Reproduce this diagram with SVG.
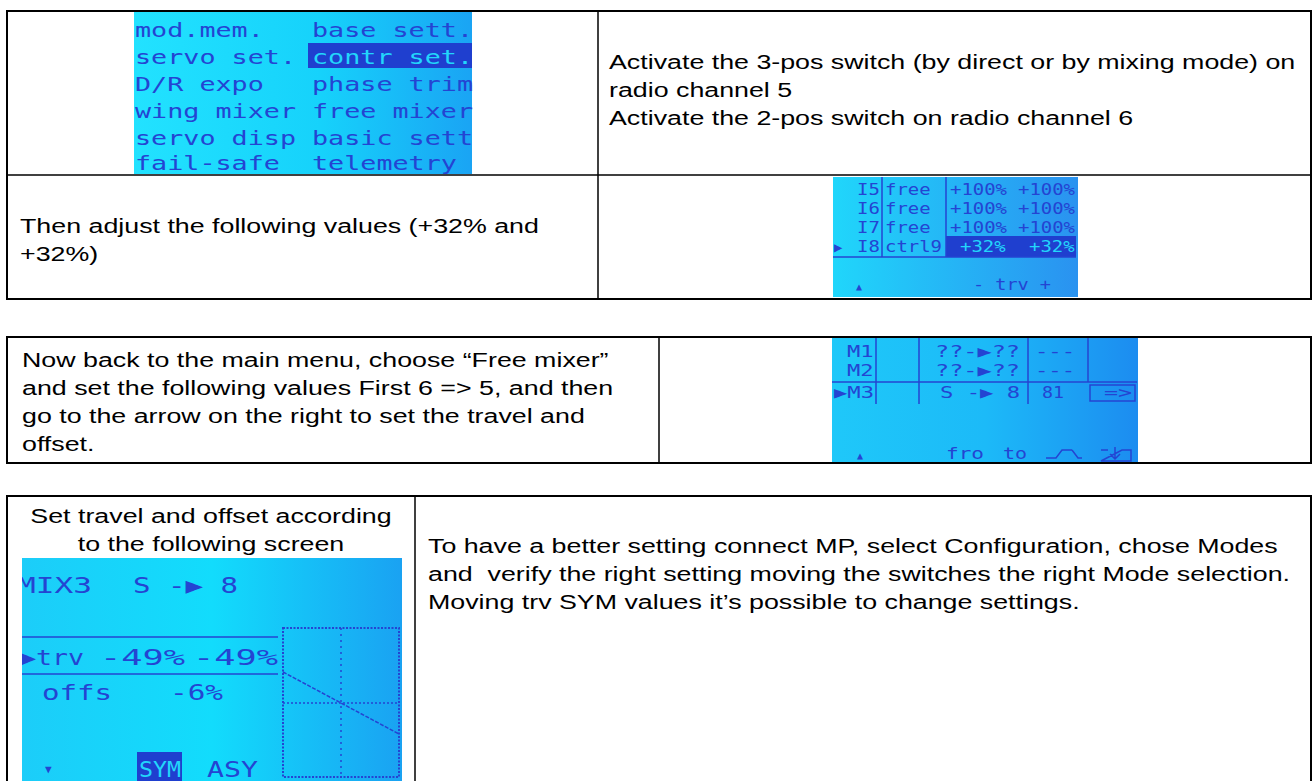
<svg xmlns="http://www.w3.org/2000/svg" width="1312" height="781" viewBox="0 0 1312 781">
<style>
.b{fill:none;stroke:#000;stroke-width:2}
.d{stroke:#000;stroke-width:1.5}
.t{font-family:"Liberation Sans",Arial,sans-serif;font-size:21px;fill:#000}
.l{font-family:"DejaVu Sans Mono","Liberation Mono",monospace;fill:#2444d2}
.hl{fill:#1f3fcf}
.c{fill:#22d6fb}
.ln{stroke:#2444d2;stroke-width:1.5;fill:none}
.dot{stroke:#2444d2;stroke-width:2;fill:none;stroke-dasharray:2 1.5}
</style>
<defs>
<linearGradient id="g1" x1="0" x2="1" y1="0" y2="0"><stop offset="0" stop-color="#22e2ff"/><stop offset="0.55" stop-color="#16d2fb"/><stop offset="1" stop-color="#1aa4f4"/></linearGradient>
<linearGradient id="g2" x1="0" x2="1" y1="0" y2="0"><stop offset="0" stop-color="#20d6fb"/><stop offset="1" stop-color="#2a92f0"/></linearGradient>
<linearGradient id="g3" x1="0" x2="1" y1="0" y2="0"><stop offset="0" stop-color="#1fc8f9"/><stop offset="0.5" stop-color="#1cbaf8"/><stop offset="1" stop-color="#1c8cf0"/></linearGradient>
<linearGradient id="g4" x1="0" x2="1" y1="0" y2="0"><stop offset="0" stop-color="#1ccdf9"/><stop offset="0.5" stop-color="#12dcfc"/><stop offset="1" stop-color="#1aa2f2"/></linearGradient>
<clipPath id="cl3"><rect x="22" y="558" width="380" height="223"/></clipPath>
</defs>
<rect width="1312" height="781" fill="#fff"/>

<!-- Table 1 -->
<g id="table1">
<rect class="b" x="7" y="11" width="1304" height="288"/>
<line class="d" x1="7" y1="175" x2="1311" y2="175"/>
<line class="d" x1="598" y1="11" x2="598" y2="299"/>
</g>

<g id="lcd-menu">
<rect x="134" y="12" width="338" height="162" fill="url(#g1)"/>
<rect class="hl" x="308" y="43" width="164" height="25"/>
<g class="l" font-size="19">
<text x="135" y="37" textLength="128.8" lengthAdjust="spacingAndGlyphs">mod.mem.</text>
<text x="312" y="37" textLength="161" lengthAdjust="spacingAndGlyphs">base sett.</text>
<text x="135" y="64" textLength="161" lengthAdjust="spacingAndGlyphs">servo set.</text>
<text x="312" y="64" textLength="161" lengthAdjust="spacingAndGlyphs" class="c">contr set.</text>
<text x="135" y="91" textLength="128.8" lengthAdjust="spacingAndGlyphs">D/R expo</text>
<text x="312" y="91" textLength="161" lengthAdjust="spacingAndGlyphs">phase trim</text>
<text x="135" y="118" textLength="161" lengthAdjust="spacingAndGlyphs">wing mixer</text>
<text x="312" y="118" textLength="161" lengthAdjust="spacingAndGlyphs">free mixer</text>
<text x="135" y="145" textLength="161" lengthAdjust="spacingAndGlyphs">servo disp</text>
<text x="312" y="145" textLength="161" lengthAdjust="spacingAndGlyphs">basic sett</text>
<text x="135" y="170" textLength="144.9" lengthAdjust="spacingAndGlyphs">fail-safe</text>
<text x="312" y="170" textLength="144.9" lengthAdjust="spacingAndGlyphs">telemetry</text>
</g>
</g>

<g id="text-activate">
<text class="t" transform="translate(609 69) scale(1.276 1)">Activate the 3-pos switch (by direct or by mixing mode) on</text>
<text class="t" transform="translate(609 97) scale(1.276 1)">radio channel 5</text>
<text class="t" transform="translate(609 125) scale(1.276 1)">Activate the 2-pos switch on radio channel 6</text>
</g>

<g id="text-adjust">
<text class="t" transform="translate(20 233) scale(1.276 1)">Then adjust the following values (+32% and</text>
<text class="t" transform="translate(20 261) scale(1.276 1)">+32%)</text>
</g>

<g id="lcd-controls">
<rect x="833" y="177" width="245" height="120" fill="url(#g2)"/>
<rect class="hl" x="946" y="236" width="130" height="21"/>
<line class="ln" x1="882" y1="177" x2="882" y2="257"/>
<line class="ln" x1="946" y1="177" x2="946" y2="257"/>
<line class="ln" x1="833" y1="257" x2="1076" y2="257"/>
<g class="l" font-size="15">
<text x="857" y="195" textLength="22.8" lengthAdjust="spacingAndGlyphs">I5</text>
<text x="885" y="195" textLength="45.6" lengthAdjust="spacingAndGlyphs">free</text>
<text x="950" y="195" textLength="57" lengthAdjust="spacingAndGlyphs">+100%</text>
<text x="1018" y="195" textLength="57" lengthAdjust="spacingAndGlyphs">+100%</text>
<text x="857" y="214" textLength="22.8" lengthAdjust="spacingAndGlyphs">I6</text>
<text x="885" y="214" textLength="45.6" lengthAdjust="spacingAndGlyphs">free</text>
<text x="950" y="214" textLength="57" lengthAdjust="spacingAndGlyphs">+100%</text>
<text x="1018" y="214" textLength="57" lengthAdjust="spacingAndGlyphs">+100%</text>
<text x="857" y="233" textLength="22.8" lengthAdjust="spacingAndGlyphs">I7</text>
<text x="885" y="233" textLength="45.6" lengthAdjust="spacingAndGlyphs">free</text>
<text x="950" y="233" textLength="57" lengthAdjust="spacingAndGlyphs">+100%</text>
<text x="1018" y="233" textLength="57" lengthAdjust="spacingAndGlyphs">+100%</text>
<text x="834" y="252" font-size="14">▶</text>
<text x="857" y="252" textLength="22.8" lengthAdjust="spacingAndGlyphs">I8</text>
<text x="885" y="252" textLength="57" lengthAdjust="spacingAndGlyphs">ctrl9</text>
<text x="960" y="252" textLength="45.6" lengthAdjust="spacingAndGlyphs" class="c">+32%</text>
<text x="1029" y="252" textLength="45.6" lengthAdjust="spacingAndGlyphs" class="c">+32%</text>
<text x="856" y="290" font-size="10">▲</text>
<text x="973" y="290" textLength="78" lengthAdjust="spacingAndGlyphs">- trv +</text>
</g>
</g>

<!-- Table 2 -->
<g id="table2">
<rect class="b" x="7" y="337" width="1304" height="126"/>
<line class="d" x1="659" y1="337" x2="659" y2="463"/>
</g>

<g id="text-freemixer">
<text class="t" transform="translate(22 367) scale(1.276 1)">Now back to the main menu, choose “Free mixer”</text>
<text class="t" transform="translate(22 395) scale(1.276 1)">and set the following values First 6 =&gt; 5, and then</text>
<text class="t" transform="translate(22 423) scale(1.276 1)">go to the arrow on the right to set the travel and</text>
<text class="t" transform="translate(22 451) scale(1.276 1)">offset.</text>
</g>

<g id="lcd-mixer">
<rect x="832" y="338" width="306" height="124" fill="url(#g3)"/>
<line class="ln" x1="876" y1="338" x2="876" y2="404"/>
<line class="ln" x1="919" y1="338" x2="919" y2="404"/>
<line class="ln" x1="1028" y1="338" x2="1028" y2="404"/>
<line class="ln" x1="1088" y1="338" x2="1088" y2="382"/>
<line class="ln" x1="832" y1="382" x2="1137" y2="382"/>
<rect class="ln" x="1090" y="385" width="45" height="16"/>
<g class="l" font-size="16">
<text x="847" y="357" textLength="26.6" lengthAdjust="spacingAndGlyphs">M1</text>
<text x="935" y="357" textLength="85" lengthAdjust="spacingAndGlyphs">??-▶??</text>
<text x="1035" y="357" textLength="40" lengthAdjust="spacingAndGlyphs">---</text>
<text x="847" y="376" textLength="26.6" lengthAdjust="spacingAndGlyphs">M2</text>
<text x="935" y="376" textLength="85" lengthAdjust="spacingAndGlyphs">??-▶??</text>
<text x="1035" y="376" textLength="40" lengthAdjust="spacingAndGlyphs">---</text>
<text x="834" y="398" textLength="40" lengthAdjust="spacingAndGlyphs">▶M3</text>
<text x="940" y="398" textLength="80" lengthAdjust="spacingAndGlyphs">S -▶ 8</text>
<text x="1042" y="398" textLength="22" lengthAdjust="spacingAndGlyphs">81</text>
<text x="1104" y="398" textLength="28" lengthAdjust="spacingAndGlyphs">=&gt;</text>
<text x="857" y="459" font-size="10">▲</text>
<text x="946" y="459" textLength="38" lengthAdjust="spacingAndGlyphs">fro</text>
<text x="1003" y="459" textLength="24" lengthAdjust="spacingAndGlyphs">to</text>
</g>
<path class="ln" d="M1046 458 H1056 L1062 450 H1072 M1072 450 L1078 458 H1082"/>
<path class="ln" d="M1101 450 H1108 M1122 450 H1131 V461 H1101 Z M1115 447 V459 M1110 454 L1115 459 L1120 454"/>
</g>

<!-- Table 3 -->
<g id="table3">
<rect class="b" x="7" y="496" width="1304" height="300"/>
<line class="d" x1="415" y1="496" x2="415" y2="781"/>
</g>

<g id="text-travel">
<text class="t" text-anchor="middle" transform="translate(211 523) scale(1.276 1)">Set travel and offset according</text>
<text class="t" text-anchor="middle" transform="translate(211 551) scale(1.276 1)">to the following screen</text>
</g>

<g id="text-mp">
<text class="t" transform="translate(428 553) scale(1.276 1)">To have a better setting connect MP, select Configuration, chose Modes</text>
<text class="t" style="white-space:pre" transform="translate(428 581) scale(1.276 1)">and  verify the right setting moving the switches the right Mode selection.</text>
<text class="t" transform="translate(428 609) scale(1.276 1)">Moving trv SYM values it’s possible to change settings.</text>
</g>

<g id="lcd-mix3" clip-path="url(#cl3)">
<rect x="22" y="558" width="380" height="223" fill="url(#g4)"/>
<line class="ln" x1="22" y1="637" x2="278" y2="637" stroke-width="2.5"/>
<line class="ln" x1="22" y1="674" x2="278" y2="674" stroke-width="2.5"/>
<rect class="dot" x="283" y="628" width="116" height="149"/>
<line class="ln" x1="341" y1="628" x2="341" y2="777" stroke-dasharray="2 4"/>
<line class="ln" x1="283" y1="703" x2="399" y2="703" stroke-dasharray="2 2"/>
<line class="ln" x1="283" y1="672" x2="399" y2="734" stroke-width="2" stroke-dasharray="4 1.5"/>
<rect class="hl" x="137" y="752" width="45" height="30"/>
<g class="l" font-size="22">
<text x="17" y="593" textLength="75" lengthAdjust="spacingAndGlyphs">MIX3</text>
<text x="133" y="593" textLength="105" lengthAdjust="spacingAndGlyphs">S -▶ 8</text>
<text x="20" y="665" textLength="64" lengthAdjust="spacingAndGlyphs">▶trv</text>
<text x="100" y="665" textLength="85" lengthAdjust="spacingAndGlyphs">-49%</text>
<text x="193" y="665" textLength="85" lengthAdjust="spacingAndGlyphs">-49%</text>
<text x="42" y="700" textLength="70" lengthAdjust="spacingAndGlyphs">offs</text>
<text x="170" y="700" textLength="53" lengthAdjust="spacingAndGlyphs">-6%</text>
<text x="139" y="777" textLength="42" lengthAdjust="spacingAndGlyphs" class="c">SYM</text>
<text x="207" y="777" textLength="51" lengthAdjust="spacingAndGlyphs">ASY</text>
<text x="45" y="773" font-size="11">▼</text>
</g>
</g>
</svg>
